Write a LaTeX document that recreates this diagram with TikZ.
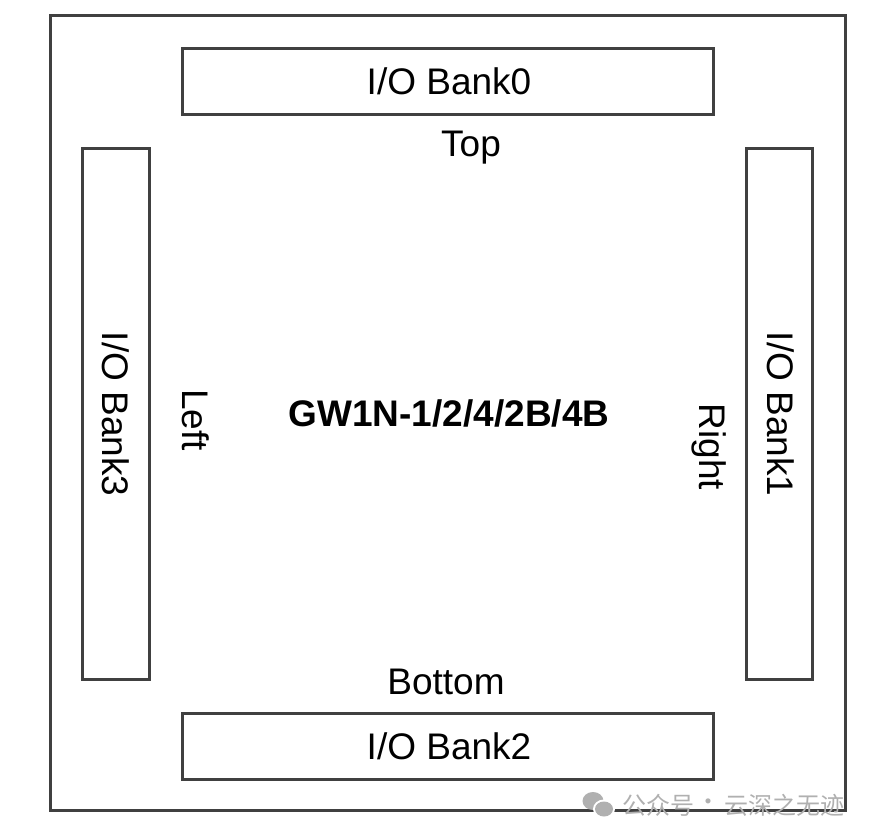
\documentclass[tikz,border=0pt]{standalone}
\usepackage{fontspec}
\setmainfont{Liberation Sans}
\newfontfamily\cjk{Noto Sans CJK SC}
\definecolor{edge}{HTML}{404040}
\definecolor{wm}{HTML}{B0B0B0}
\tikzset{
  bankbox/.style={draw=edge, line width=3pt, fill=white},
  lbl/.style={font=\fontsize{37}{40}\selectfont, inner sep=0pt},
  vlbl/.style={lbl, rotate=-90},
  wmtxt/.style={inner sep=0pt, text=wm, font=\cjk\fontsize{24}{26}\selectfont},
}
\begin{document}
\begin{tikzpicture}[x=1pt,y=-1pt]
\useasboundingbox (0,0) rectangle (873,840);
\draw[bankbox] (50,16) rectangle (845,810);
\draw[bankbox] (182,49) rectangle (713,115);
\draw[bankbox] (182,713) rectangle (713,779);
\draw[bankbox] (82,149) rectangle (149,679);
\draw[bankbox] (746,149) rectangle (812,679);
\node[lbl] (b0) at (449,81) {I/O Bank0};
\node[lbl] (b2) at (449,746) {I/O Bank2};
\node[vlbl] (b3) at (116,414) {I/O Bank3};
\node[vlbl] (b1) at (781,414) {I/O Bank1};
\node[lbl] (top) at (471,148) {Top};
\node[lbl] (bottom) at (446,682) {Bottom};
\node[vlbl] (left) at (196,420) {Left};
\node[vlbl] (right) at (709,447) {Right};
\node[lbl, font=\fontsize{37}{40}\selectfont\bfseries] (chip) at (449,413) {GW1N-1/2/4/2B/4B};
% watermark
\fill[wm] (593,801) ellipse (10.5pt and 9pt);
\fill[white] (604,809) ellipse (11pt and 9.5pt);
\fill[wm] (604,809) ellipse (9pt and 7.5pt);
\node[wmtxt, anchor=west] (wm1) at (622,805) {公众号};
\node[wmtxt] (wmdot) at (708,805) {·};
\node[wmtxt, anchor=east] (wm2) at (845,805) {云深之无迹};
\end{tikzpicture}
\end{document}
